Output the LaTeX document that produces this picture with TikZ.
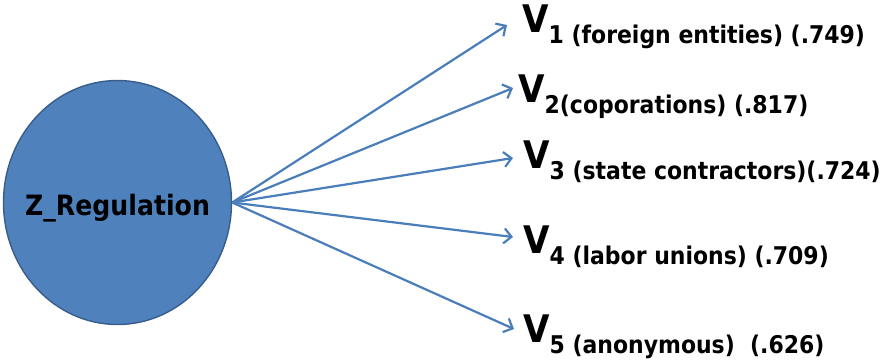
\documentclass[tikz,border=0pt]{standalone}
\usepackage{fontspec}
\setmainfont{DejaVu Sans}[FakeStretch=0.9]
\usepackage{xcolor}
\usepackage{tikz}
\tikzset{>=latex}
\usetikzlibrary{
    positioning, % relative placement
    arrows.meta, % arrow tips
    shapes.geometric % ellipse node
}

\definecolor{factorfill}{HTML}{4F81BD}
\definecolor{factorline}{HTML}{385D8A}
\definecolor{loadblue}{HTML}{4A7EBB}

% big V with a lowered subscript line
\newcommand{\indlabel}[2]{{\fontsize{38}{38}\selectfont V}\raisebox{-11pt}{\fontsize{24.4}{24.4}\selectfont #1#2}}

\begin{document}
\begin{tikzpicture}[x=1pt, y=-1pt,
    factor/.style={ellipse, draw=factorline, line width=1.4pt, fill=factorfill,
      minimum width=228pt, minimum height=244pt, inner sep=0pt},
    indicator/.style={anchor=base west, inner sep=0pt, font=\bfseries},
    loading/.style={->, draw=loadblue, line width=2.2pt,
      >={Straight Barb[length=7.5pt, width=15pt, line width=2.2pt]}}]
  \useasboundingbox (0,0) rectangle (884,360);

  % ===================== FACTOR =====================
  % empty ellipse, name set as a centred label so the text does not widen it
  \node[factor, label={[yshift=-6pt, font=\bfseries\fontsize{28}{28}\selectfont]center:Z\_Regulation}]
    (reg) at (117.5,202.5) {};

  % ===================== INDICATORS =====================
  % baselines of the big V, top to bottom
  \node[indicator] (v1) at (522,32)  {\indlabel{1}{ (foreign entities) (.749)}};
  \node[indicator] (v2) at (518,102) {\indlabel{2}{(coporations) (.817)}};
  \node[indicator] (v3) at (523,168) {\indlabel{3}{ (state contractors)(.724)}};
  \node[indicator] (v4) at (523,253) {\indlabel{4}{ (labor unions) (.709)}};
  \node[indicator] (v5) at (523,342) {\indlabel{5}{ (anonymous)\ \ (.626)}};

  % arrow tips, just left of each V
  \coordinate (t1) at (507,25);
  \coordinate (t2) at (513,88);
  \coordinate (t3) at (513,158);
  \coordinate (t4) at (513,237);
  \coordinate (t5) at (514,329);

  % ===================== LOADINGS =====================
  \draw[loading] (reg.east) -- (t1);
  \draw[loading] (reg.east) -- (t2);
  \draw[loading] (reg.east) -- (t3);
  \draw[loading] (reg.east) -- (t4);
  \draw[loading] (reg.east) -- (t5);
\end{tikzpicture}
\end{document}
